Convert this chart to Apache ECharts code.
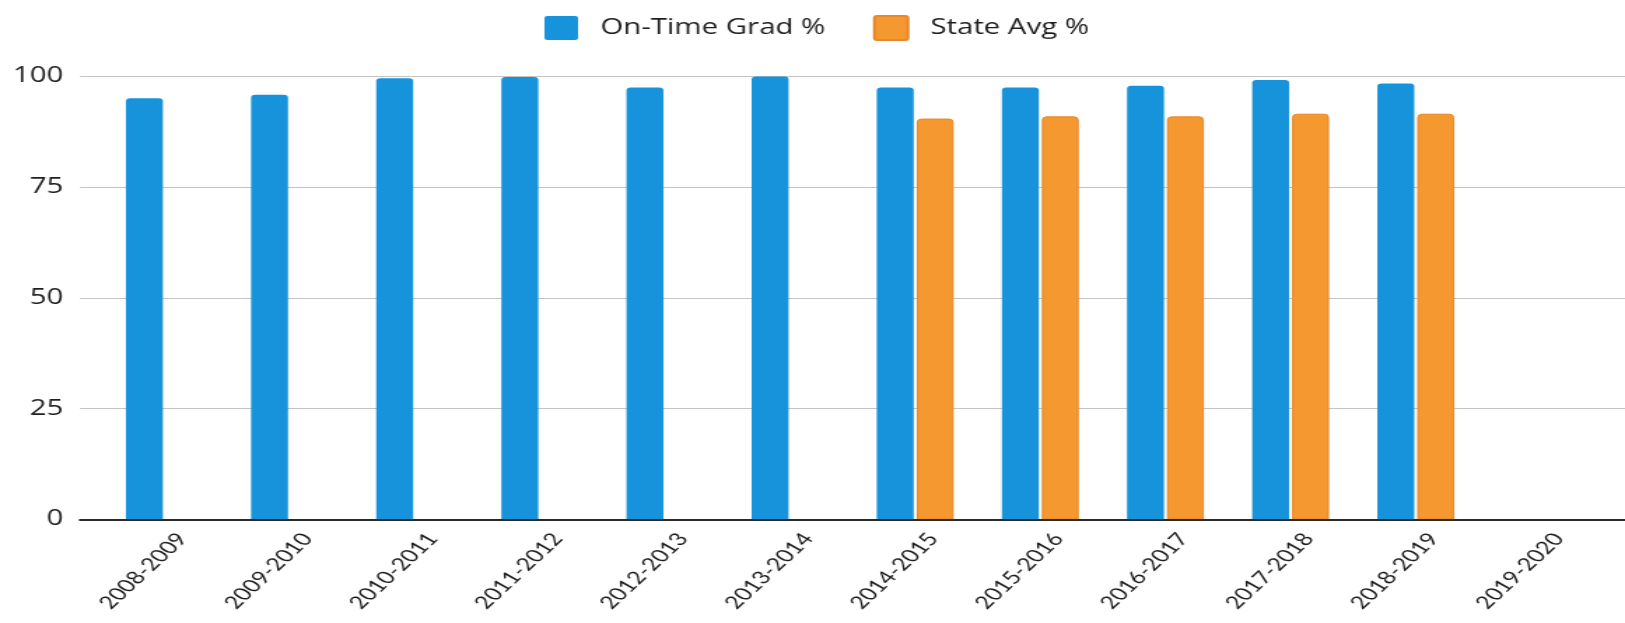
<!DOCTYPE html>
<html>
<head>
<meta charset="utf-8">
<script src="https://cdn.jsdelivr.net/npm/echarts/dist/echarts.min.js"></script>
<style>
  html, body { margin: 0; padding: 0; background: #fff; overflow: hidden; }
  /* the reference is a horizontally stretched scan, so the chart is drawn narrower and stretched */
  #main { width: 1161px; height: 623px; transform: scaleX(1.39966); transform-origin: 0 0; }
</style>
</head>
<body>
<div id="main"></div>
<script>
var years = ['2008-2009', '2009-2010', '2010-2011', '2011-2012', '2012-2013', '2013-2014',
             '2014-2015', '2015-2016', '2016-2017', '2017-2018', '2018-2019', '2019-2020'];
var gradPct = [95.0, 95.8, 99.5, 99.8, 97.4, 99.9, 97.4, 97.4, 97.8, 99.1, 98.3, null];
var statePct = [null, null, null, null, null, null, 90.4, 90.9, 90.9, 91.5, 91.5, null];
var yTicks = [0, 25, 50, 75, 100];

var chart = echarts.init(document.getElementById('main'));

var top0 = 76, bottom0 = 103.5;
var squareIcon = 'path://M2,0H22A2,2 0 0 1 24,2V22A2,2 0 0 1 22,24H2A2,2 0 0 1 0,22V2A2,2 0 0 1 2,0Z';

option = {
    backgroundColor: '#ffffff',
    animation: false,
    legend: {
        left: 389,
        top: 15,
        padding: 0,
        itemWidth: 24,
        itemHeight: 24,
        itemGap: 34,
        icon: squareIcon,
        textStyle: {
            fontFamily: 'Open Sans',
            fontSize: 21,
            color: '#1e1e1e',
            padding: [0, 0, 0, 11]
        },
        data: ['On-Time Grad %', 'State Avg %']
    },
    grid: [
        // gridlines + baseline
        {left: 57.2, right: 0, top: top0, bottom: bottom0},
        // bars
        {left: 72.7, right: 15.4, top: top0, bottom: bottom0},
        // category labels
        {left: 85.5, right: 2.6, top: top0, bottom: bottom0}
    ],
    xAxis: [
        {
            gridIndex: 0, type: 'value', min: 0, max: 1, z: 3,
            axisLine: {show: true, lineStyle: {color: '#2a2a2a', width: 2}},
            axisTick: {show: false}, axisLabel: {show: false}, splitLine: {show: false}
        },
        {
            gridIndex: 1, type: 'category', data: years,
            axisLine: {show: false}, axisTick: {show: false}, axisLabel: {show: false}
        },
        {
            gridIndex: 2, type: 'category', data: years,
            axisLine: {show: false}, axisTick: {show: false},
            axisLabel: {
                interval: 0, rotate: 52, margin: 16,
                fontFamily: 'Lato', fontSize: 18, color: '#1e1e1e'
            }
        }
    ],
    yAxis: [
        {
            gridIndex: 0, type: 'value', min: yTicks[0], max: yTicks[yTicks.length - 1], interval: 25,
            axisLine: {show: false}, axisTick: {show: false},
            axisLabel: {margin: 12, fontFamily: 'Open Sans', fontSize: 21, color: '#1e1e1e'},
            splitLine: {lineStyle: {color: '#c4c4c4', width: 1}}
        },
        {gridIndex: 1, type: 'value', min: 0, max: 100, show: false},
        {gridIndex: 2, type: 'value', min: 0, max: 100, show: false}
    ],
    series: [
        {
            name: 'On-Time Grad %',
            type: 'bar',
            xAxisIndex: 1,
            yAxisIndex: 1,
            data: gradPct,
            barWidth: 26.4,
            barGap: '8%',
            itemStyle: {color: '#1793dc', borderRadius: [3, 3, 0, 0]}
        },
        {
            name: 'State Avg %',
            type: 'bar',
            xAxisIndex: 1,
            yAxisIndex: 1,
            data: statePct,
            barWidth: 26.4,
            barGap: '8%',
            itemStyle: {color: '#f4982f', borderColor: '#e8862a', borderWidth: 1, borderRadius: [3, 3, 0, 0]}
        }
    ]
};
chart.setOption(option);
</script>
</body>
</html>
